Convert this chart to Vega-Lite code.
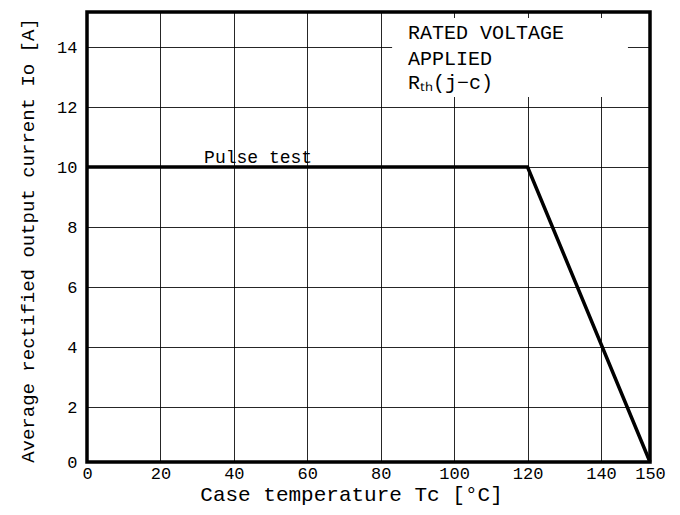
{
  "$schema": "https://vega.github.io/schema/vega-lite/v6.json",
  "width": 563,
  "height": 450,
  "autosize": {"type": "none"},
  "padding": {"left": 87, "top": 12, "right": 30, "bottom": 53},
  "background": "white",
  "config": {
    "view": {"stroke": "black", "strokeWidth": 3.5},
    "font": "Liberation Mono"
  },
  "datasets": {
    "curve": [
      {"tc": 0, "io": 10},
      {"tc": 120, "io": 10},
      {"tc": 150, "io": 0}
    ],
    "box": [{"tc": 83.1, "tc2": 145.5, "io": 12.33, "io2": 14.97}],
    "notes": [
      {"tc": 87.4, "io": 14.27, "label": "RATED VOLTAGE"},
      {"tc": 87.4, "io": 13.4, "label": "APPLIED"},
      {"tc": 87.4, "io": 12.6, "label": "Rₜₕ(j−c)"}
    ],
    "pulse": [{"tc": 31.9, "io": 10.13, "label": "Pulse test"}]
  },
  "encoding": {
    "x": {
      "field": "tc",
      "type": "quantitative",
      "scale": {"domain": [0, 140, 150], "range": [0, 514, 563], "nice": false, "zero": false},
      "axis": {
        "values": [0, 20, 40, 60, 80, 100, 120, 140, 150],
        "grid": true,
        "gridColor": "black",
        "gridWidth": 1,
        "gridOpacity": 0.85,
        "tickSize": 0,
        "domain": false,
        "labelFontSize": 17,
        "labelPadding": 3,
        "labelColor": "black",
        "labelFlush": false,
        "labelOverlap": false,
        "title": "Case temperature Tc [°C]",
        "titleFontSize": 21,
        "titleFontWeight": "normal",
        "titleColor": "black",
        "titleX": 264,
        "titleY": 38,
        "titleBaseline": "alphabetic"
      }
    },
    "y": {
      "field": "io",
      "type": "quantitative",
      "scale": {"domain": [0, 2, 14, 15.17], "range": [450, 395, 35, 0], "nice": false, "zero": false},
      "axis": {
        "values": [0, 2, 4, 6, 8, 10, 12, 14],
        "grid": true,
        "gridColor": "black",
        "gridWidth": 1,
        "gridOpacity": 0.85,
        "tickSize": 0,
        "domain": false,
        "labelFontSize": 17,
        "labelPadding": 10,
        "labelColor": "black",
        "labelFlush": false,
        "labelOverlap": false,
        "title": "Average rectified output current Io [A]",
        "titleFontSize": 19,
        "titleFontWeight": "normal",
        "titleColor": "black",
        "titleAngle": -90,
        "titleX": -54,
        "titleY": 228,
        "titleBaseline": "alphabetic"
      }
    }
  },
  "layer": [
    {
      "data": {"name": "box"},
      "mark": {"type": "rect", "fill": "white", "strokeWidth": 0},
      "encoding": {
        "x2": {"field": "tc2"},
        "y2": {"field": "io2"}
      }
    },
    {
      "data": {"name": "curve"},
      "mark": {"type": "line", "color": "black", "strokeWidth": 3.5, "strokeJoin": "miter"},
      "encoding": {}
    },
    {
      "data": {"name": "notes"},
      "mark": {"type": "text", "align": "left", "baseline": "alphabetic", "fontSize": 20, "color": "black"},
      "encoding": {"text": {"field": "label"}}
    },
    {
      "data": {"name": "pulse"},
      "mark": {"type": "text", "align": "left", "baseline": "alphabetic", "fontSize": 18, "color": "black"},
      "encoding": {"text": {"field": "label"}}
    }
  ]
}
